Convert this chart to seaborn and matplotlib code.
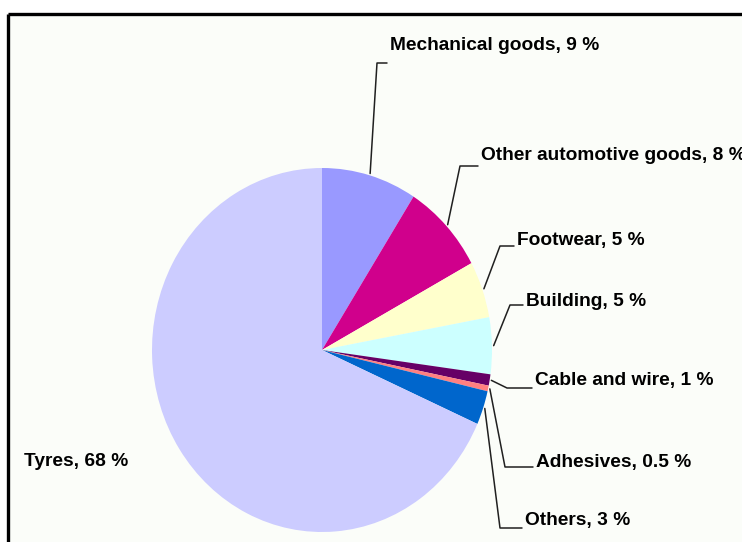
import numpy as np
import matplotlib
matplotlib.use("Agg")
import matplotlib.pyplot as plt
import seaborn as sns

# Rubber consumption by end use (%)
categories = ["Mechanical goods", "Other automotive goods", "Footwear", "Building",
              "Cable and wire", "Adhesives", "Others", "Tyres"]
shares = [9, 8, 5, 5, 1, 0.5, 3, 68]
share_labels = ["9", "8", "5", "5", "1", "0.5", "3", "68"]
colors = ["#9999FF", "#D0008C", "#FFFFCC", "#CCFFFF",
          "#660066", "#FF8080", "#0066CC", "#CCCCFF"]

# Label anchors (pixel positions of the text's left/centre) and elbow of the leader lines
label_pos = [(390, 46), (481, 155), (517, 241), (526, 301),
             (535, 380), (536, 462), (525, 520), (24, 462)]
elbow_pos = [(377, 63), (460, 166), (500, 246), (510, 305),
             (507, 388), (505, 467), (500, 528), None]

sns.set_theme(style="white")
plt.rcParams["font.family"] = ["Liberation Sans", "DejaVu Sans"]

W, H = 742, 542
CX, CY, RX, RY = 322, 350, 170, 182

fig = plt.figure(figsize=(W / 100, H / 100), dpi=100)
fig.patch.set_facecolor("white")
ax = fig.add_axes([0, 0, 1, 1])


def px(x, y):
    """Convert a pixel position to data coordinates of the unit pie."""
    return (x - CX) / RX, (CY - y) / RY


# chart area with its frame
x0, y0 = px(8, 14)
x1, y1 = px(W + 5, H + 5)
ax.add_patch(plt.Rectangle((x0, y1), x1 - x0, y0 - y1, facecolor="#FBFDF9",
                           edgecolor="none", zorder=0))
ax.plot([x0, x1], [y0, y0], color="black", lw=2.4, zorder=5, solid_capstyle="butt")
ax.plot([x0, x0], [y0, y1], color="black", lw=2.4, zorder=5, solid_capstyle="butt")

wedges, _ = ax.pie(shares, colors=colors, startangle=90, counterclock=False,
                   radius=1.0, center=(0, 0), frame=True,
                   wedgeprops=dict(linewidth=0, antialiased=True))

for w, name, val, lp, ep in zip(wedges, categories, share_labels, label_pos, elbow_pos):
    text = f"{name}, {val} %"
    tx, ty = px(*lp)
    ax.text(tx, ty, text, ha="left", va="center", fontsize=13.8,
            fontweight="bold", color="black", zorder=6)
    if ep is None:
        continue
    mid = np.deg2rad((w.theta1 + w.theta2) / 2)
    sx, sy = 1.01 * np.cos(mid), 1.01 * np.sin(mid)
    ex, ey = px(*ep)
    hx, _ = px(lp[0] - 3, ep[1])
    ax.plot([sx, ex, hx], [sy, ey, ey], color="#202020", lw=1.1, zorder=4)

ax.set_xlim(px(0, 0)[0], px(W, 0)[0])
ax.set_ylim(px(0, H)[1], px(0, 0)[1])
ax.set_aspect("auto")
ax.axis("off")

fig.savefig("out.png", dpi=100, facecolor="white")
